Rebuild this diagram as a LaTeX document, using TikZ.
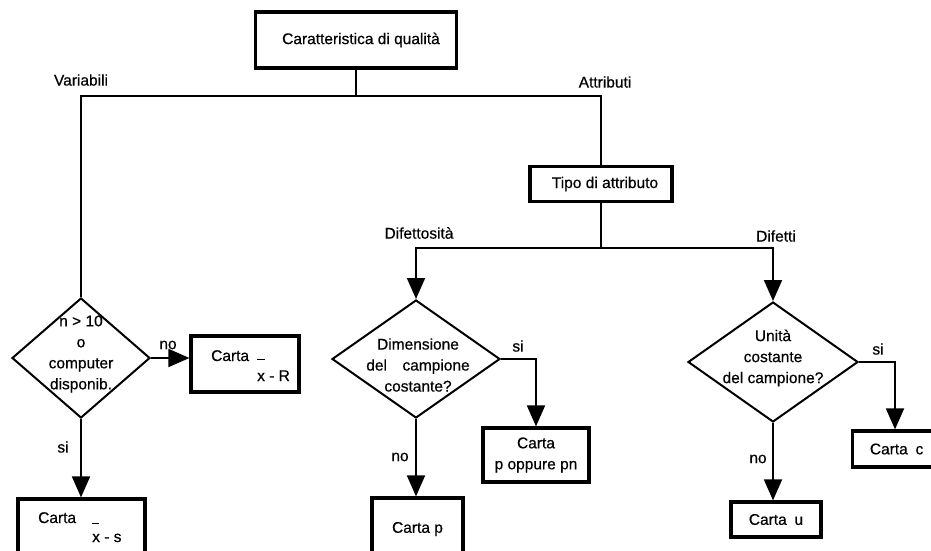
\documentclass[tikz,border=0pt]{standalone}
\usepackage{fontspec}
\setmainfont{Liberation Sans}[FakeBold=0.5]
\usetikzlibrary{shapes.geometric,arrows.meta}
\begin{document}
\begin{tikzpicture}[x=1pt,y=-1pt,
  every node/.style={font=\fontsize{15.5}{21}\selectfont},
  box/.style={draw,line width=3.2pt,inner sep=0pt,align=center},
  dia/.style={draw,diamond,line width=2pt,inner sep=0pt},
  txt/.style={align=center,inner sep=0pt},
  lbl/.style={inner sep=0pt},
  line/.style={line width=1.8pt},
  arr/.style={line width=1.8pt,-{Triangle[length=21pt,width=18pt]}}]

\useasboundingbox[fill=white] (0,0) rectangle (931,551);

% top of the tree
\node[box,minimum width=201pt,minimum height=56pt] (top) at (356,40) {\hspace*{10pt}Caratteristica di qualità};
\node[box,minimum width=142pt,minimum height=35pt] (tipo) at (601,184) {\hspace*{8pt}Tipo di attributo};

% decisions
\node[dia,minimum width=138pt,minimum height=120pt] (d1) at (81,358) {};
\node[txt] (d1t) at (81,354) {n > 10\\o\\computer\\disponib.};
\node[dia,minimum width=168pt,minimum height=118pt] (d2) at (416,359) {};
\node[txt] (d2t) at (418,365) {Dimensione\\del\quad campione\\costante?};
\node[dia,minimum width=170pt,minimum height=120pt] (d3) at (773,362) {};
\node[txt] (d3t) at (773,358) {Unità\\costante\\del campione?};

% control charts
\node[box,minimum width=108pt,minimum height=56pt] (cxr) at (245,364) {};
\node[lbl,anchor=base west] (cxr1) at (211,361) {Carta};
\node[lbl,anchor=base west] (cxr2) at (257,381) {\rlap{\raisebox{21pt}{\rule{8pt}{1.4pt}}}x - R};

\node[box,minimum width=127pt,minimum height=62pt] (cxs) at (81.5,530) {};
\node[lbl,anchor=base west] (cxs1) at (38,523) {Carta};
\node[lbl,anchor=base west] (cxs2) at (92,542) {\rlap{\raisebox{18pt}{\rule{7pt}{1.4pt}}}x - s};

\node[box,minimum width=106pt,minimum height=54pt] (cpp) at (536,455) {Carta\\p oppure pn};
\node[box,minimum width=91pt,minimum height=62pt] (cp) at (417.5,529) {Carta p};
\node[box,minimum width=90pt,minimum height=35pt] (cu) at (776,519.5) {Carta\enspace u};
\node[box,minimum width=100pt,minimum height=36pt,anchor=west] (cc) at (851,449) {Carta\enspace c\hspace*{12pt}};
\coordinate (cctop) at ([xshift=44pt]cc.north west);

% branch labels
\node[lbl] (lvar) at (81,80) {Variabili};
\node[lbl] (latt) at (605,82) {Attributi};
\node[lbl] (ldif) at (419,233) {Difettosità};
\node[lbl] (ldft) at (776,236) {Difetti};
\node[lbl] (no1) at (168,345) {no};
\node[lbl] (si1) at (63,447) {si};
\node[lbl] (si2) at (518,346) {si};
\node[lbl] (no2) at (400,457) {no};
\node[lbl] (si3) at (878,349) {si};
\node[lbl] (no3) at (758,459) {no};

% connectors
\coordinate (s1) at (356,96);
\coordinate (s2) at (601,248);
\draw[line] (top.south) -- (s1);
\draw[line] (d1.north) |- (s1) -| (tipo.north);
\draw[line] (tipo.south) -- (s2);
\draw[arr] (s2) -| (d2.north);
\draw[arr] (s2) -| (d3.north);
\draw[arr] (d1.east) -- (d1.east -| cxr.west);
\draw[arr] (d1.south) -- (d1.south |- cxs.north);
\draw[arr] (d2.east) -| (cpp.north);
\draw[arr] (d2.south) -- (d2.south |- cp.north);
\draw[arr] (d3.east) -| (cctop);
\draw[arr] (d3.south) -- (d3.south |- cu.north);
\end{tikzpicture}
\end{document}
